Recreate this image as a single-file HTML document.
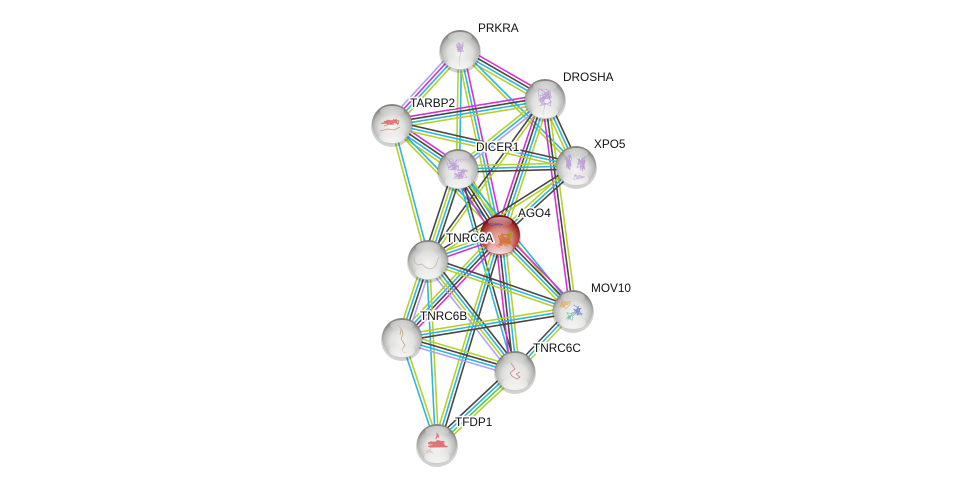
<!DOCTYPE html>
<html><head><meta charset="utf-8">
<style>
html,body{margin:0;padding:0;background:#fff;width:975px;height:489px;overflow:hidden}
svg{display:block}
text{font-family:"Liberation Sans",sans-serif;font-size:11.8px;fill:#111;paint-order:stroke;stroke:rgba(255,255,255,.92);stroke-width:3.4px;stroke-linejoin:round}
</style></head><body>
<svg id="s" xmlns="http://www.w3.org/2000/svg" width="975" height="489" viewBox="0 0 975 489">
<defs>
<radialGradient id="g" cx="50%" cy="60%" r="55%">
<stop offset="0" stop-color="#f3f3f2"/><stop offset=".55" stop-color="#e0e0de"/><stop offset=".84" stop-color="#b8b8b6"/><stop offset="1" stop-color="#858583"/>
</radialGradient>
<radialGradient id="r" cx="50%" cy="62%" r="56%">
<stop offset="0" stop-color="#edb4ae"/><stop offset=".5" stop-color="#d88a84"/><stop offset=".82" stop-color="#b03c38"/><stop offset="1" stop-color="#7a1412"/>
</radialGradient>
<linearGradient id="h" x1="0" y1="0" x2="0" y2="1">
<stop offset="0" stop-color="#fff" stop-opacity=".6"/><stop offset="1" stop-color="#fff" stop-opacity="0"/>
</linearGradient>
<linearGradient id="b" x1="0" y1="0" x2="0" y2="1">
<stop offset="0" stop-color="#fff" stop-opacity="0"/><stop offset="1" stop-color="#fff" stop-opacity=".8"/>
</linearGradient>
</defs>
<g id="edges"></g>
<g id="nodes"></g>
<g id="gly" fill="none" stroke-linejoin="round"></g>
<g id="hl"></g>
<text x="478" y="32">PRKRA</text>
<text x="563" y="81">DROSHA</text>
<text x="410" y="107">TARBP2</text>
<text x="476" y="151">DICER1</text>
<text x="594" y="148">XPO5</text>
<text x="518" y="217">AGO4</text>
<text x="446" y="242">TNRC6A</text>
<text x="591" y="292">MOV10</text>
<text x="420" y="320">TNRC6B</text>
<text x="533" y="352">TNRC6C</text>
<text x="455" y="426">TFDP1</text>
</svg>
<script>
var N={P:[460,50],D:[545,99],T:[392,124],I:[458,169],X:[576,166],A:[500,235],a:[428,260],M:[573,310],b:[402,338],c:[515,371],F:[437,444]};
var C={c:"#2fb6d9",m:"#d632d6",y:"#b4d12e",k:"#474747",l:"#aba4f2",g:"#55c855"};
var E=[["P","D","mkcy"],["P","T","lmcy"],["P","I","yc"],["P","A","mcy"],["P","X","cy"],
["D","T","mkcy"],["D","I","ycl"],["D","X","kcy"],["D","A","mkcy"],["D","M","ykm"],["D","a","ky"],
["T","I","mkcy"],["T","X","kcy"],["T","a","cy"],["T","A","cy"],
["I","X","yck"],["I","A","yckkm"],["I","a","kyck"],["I","M","cy"],["I","c","kc"],
["X","A","yck"],["X","a","ky"],["A","a","ycm"],["A","M","mkcy"],["A","b","yckm"],["A","c","yckm"],["A","F","yck"],
["a","M","kcy"],["a","b","yckl"],["a","c","kcyl"],["a","F","yc"],
["b","M","yck"],["b","c","ykcl"],["b","F","yc"],["M","c","kcy"],["c","F","kcgy"]];
var NS="http://www.w3.org/2000/svg",eg=document.getElementById("edges"),ng=document.getElementById("nodes"),hg=document.getElementById("hl"),gg=document.getElementById("gly");
function el(p,t,o){var e=document.createElementNS(NS,t);for(var k in o)e.setAttribute(k,o[k]);p.appendChild(e);return e}
E.forEach(function(e){
 var A=N[e[0]],B=N[e[1]],dx=B[0]-A[0],dy=B[1]-A[1],L=Math.sqrt(dx*dx+dy*dy),nx=-dy/L,ny=dx/L;
 if(dx<0||(dx===0&&dy<0)){nx=-nx;ny=-ny}
 var s=e[2],n=s.length;
 for(var i=0;i<n;i++){
  var o=(i-(n-1)/2)*3.1;
  el(eg,"line",{x1:A[0]+nx*o,y1:A[1]+ny*o,x2:B[0]+nx*o,y2:B[1]+ny*o,stroke:C[s[i]],"stroke-width":1.6});
 }
});
for(var k in N){
 var p=N[k],x=p[0],y=p[1];
 el(ng,"circle",{cx:x,cy:y+2,r:21,fill:"#000",opacity:.18});
 el(ng,"circle",{cx:x,cy:y,r:20,fill:k==="A"?"url(#r)":"url(#g)"});
 el(hg,"ellipse",{cx:x,cy:y-13,rx:12,ry:5,fill:"url(#h)"});
 el(hg,"ellipse",{cx:x,cy:y+13,rx:13,ry:6,fill:"url(#b)"});
}
var seed=11;function R(){seed=(seed*16807)%2147483647;return seed/2147483647}
function sq(cx,cy,w,h,n,col,sw){
 var d="",i;
 for(i=0;i<n;i++){
  var x=cx+(R()-.5)*w,y=cy+(R()-.5)*h;
  d+=(i?"L":"M")+x.toFixed(1)+" "+y.toFixed(1);
 }
 el(gg,"path",{d:d,stroke:col,"stroke-width":sw,opacity:.8});
}
sq(460,48,7,12,26,"#b48fd4",.6);el(gg,"path",{d:"M459 42l2 10-2 8 1 6",stroke:"#b8a8c8","stroke-width":.5});
sq(545,97,13,18,50,"#b48fd4",.55);el(gg,"path",{d:"M545 105l-2 8 1 4",stroke:"#b8a8c8","stroke-width":.5});
sq(391,122,20,5,22,"#d85a58",.9);el(gg,"path",{d:"M380 131l8-2 6 1 6-3M384 126l6-2",stroke:"#e88884","stroke-width":.8});
sq(453,165,12,12,30,"#b48fd4",.55);sq(461,174,16,11,36,"#b48fd4",.55);sq(463,160,12,6,10,"#c4a8dc",.45);
sq(568,162,7,16,30,"#b48fd4",.65);sq(581,164,9,15,30,"#b48fd4",.65);sq(579,177,13,6,14,"#b48fd4",.65);
sq(505,240,15,14,36,"#cf6a20",.9);sq(509,236,9,8,12,"#a8a02a",.8);sq(495,224,16,3,12,"#4f2f80",.7);sq(499,245,7,7,10,"#d84f20",.8);
el(gg,"path",{d:"M414 258l1 5 3 2 4-1 3 3 4 2 4-1 3-3 2-6 1-2",stroke:"#ccb0b2","stroke-width":.7});
sq(565,305,12,8,16,"#e8a040",.55);sq(578,311,10,13,22,"#5a78cc",.6);sq(570,317,11,10,14,"#54b09a",.55);
el(gg,"path",{d:"M398 325l4 5 1 4-2 5 4 6-3 5 2 3 3-1M401 330l-1 5",stroke:"#c2ae88","stroke-width":.9});
el(gg,"path",{d:"M511 363l4 6-5 4 2 3 5 3 3-2-4-3 4-2",stroke:"#c89094","stroke-width":.9});
sq(438,444,20,7,30,"#dc5458",1.3);sq(437,436,5,6,6,"#dc5458",1.1);sq(429,451,9,5,8,"#d8b0b0",.6);
</script>
</body></html>
